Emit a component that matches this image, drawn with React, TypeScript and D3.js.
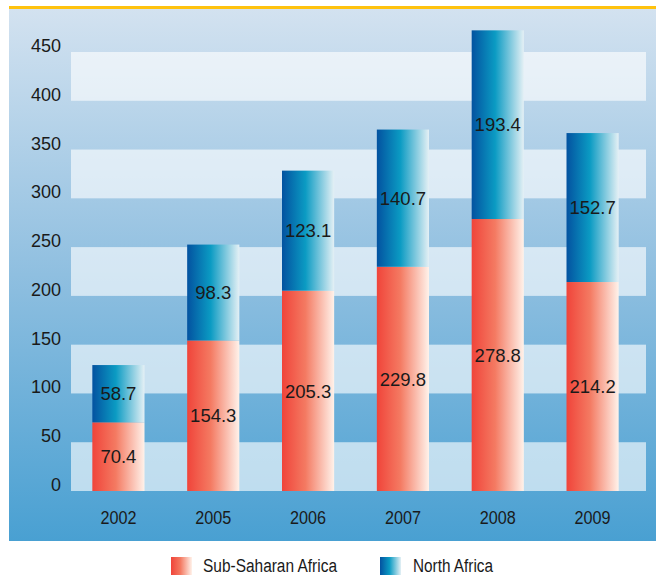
import React from "react";
import * as d3 from "d3";

const years = ["2002", "2005", "2006", "2007", "2008", "2009"];
const subSaharan = [70.4, 154.3, 205.3, 229.8, 278.8, 214.2];
const northAfrica = [58.7, 98.3, 123.1, 140.7, 193.4, 152.7];
const yTicks = [0, 50, 100, 150, 200, 250, 300, 350, 400, 450];
const seriesNames = ["Sub-Saharan Africa", "North Africa"];

const W = 656;
const H = 575;
const FONT = "'Liberation Sans', Arial, sans-serif";

export default function App() {
  const y = d3.scaleLinear().domain([0, 450]).range([491, 52]);
  const x = d3.scaleBand().domain(years).range([71, 640]).paddingInner(0.45).paddingOuter(0.225);
  const bw = x.bandwidth();
  const bands = [0, 100, 200, 300, 400];

  return (
    <svg width={W} height={H} style={{ position: "absolute", left: 0, top: 0, display: "block" }}>
      <defs>
        <linearGradient id="bg" x1="0" y1="0" x2="0" y2="1">
          <stop offset="0" stopColor="#d3e2f0" />
          <stop offset="0.5" stopColor="#8fbfe0" />
          <stop offset="1" stopColor="#49a0d2" />
        </linearGradient>
        <linearGradient id="red" x1="0" y1="0" x2="1" y2="0">
          <stop offset="0" stopColor="#f0443a" />
          <stop offset="0.45" stopColor="#f47a62" />
          <stop offset="1" stopColor="#fff2ea" />
        </linearGradient>
        <linearGradient id="blue" x1="0" y1="0" x2="1" y2="0">
          <stop offset="0" stopColor="#0352a0" />
          <stop offset="0.45" stopColor="#0b9bc3" />
          <stop offset="1" stopColor="#e4f0f5" />
        </linearGradient>
      </defs>
      <rect x={9} y={8} width={W - 9} height={533} fill="url(#bg)" />
      <rect x={9} y={6} width={W - 9} height={3} fill="#ffc20e" />
      {bands.map((b) => (
        <rect key={b} x={71} y={y(b + 50)} width={575} height={y(b) - y(b + 50)} fill="#ffffff" fillOpacity={0.62} />
      ))}
      {yTicks.map((t) => (
        <text key={t} x={61} y={y(t)} textAnchor="end" fontFamily={FONT} fontSize={18} fill="#1a1a1a">
          {t}
        </text>
      ))}
      {years.map((yr, i) => {
        const x0 = x(yr)!;
        const s = subSaharan[i];
        const n = northAfrica[i];
        return (
          <g key={yr}>
            <rect x={x0} y={y(s)} width={bw} height={y(0) - y(s)} fill="url(#red)" />
            <rect x={x0} y={y(s + n)} width={bw} height={y(s) - y(s + n)} fill="url(#blue)" />
            <text x={x0 + bw / 2} y={y(s / 2)} dy="0.36em" textAnchor="middle" fontFamily={FONT} fontSize={18.5} fill="#1a1a1a">
              {s.toFixed(1)}
            </text>
            <text x={x0 + bw / 2} y={y(s + n / 2)} dy="0.36em" textAnchor="middle" fontFamily={FONT} fontSize={18.5} fill="#1a1a1a">
              {n.toFixed(1)}
            </text>
            <text x={x0 + bw / 2} y={524} textAnchor="middle" fontFamily={FONT} fontSize={17.5} textLength={36} lengthAdjust="spacingAndGlyphs" fill="#1a1a1a">
              {yr}
            </text>
          </g>
        );
      })}
      <g>
        <rect x={171} y={557} width={21} height={18} fill="url(#red)" />
        <text x={203} y={572} fontFamily={FONT} fontSize={18} textLength={134} lengthAdjust="spacingAndGlyphs" fill="#1a1a1a">{seriesNames[0]}</text>
        <rect x={380} y={557} width={21} height={18} fill="url(#blue)" />
        <text x={413} y={572} fontFamily={FONT} fontSize={18} textLength={80} lengthAdjust="spacingAndGlyphs" fill="#1a1a1a">{seriesNames[1]}</text>
      </g>
    </svg>
  );
}
